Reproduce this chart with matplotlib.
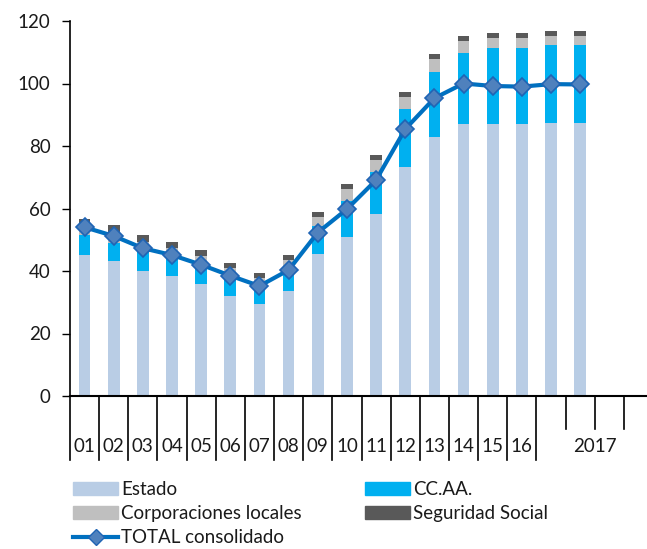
import matplotlib.pyplot as plt
from matplotlib.patches import Patch
from matplotlib.lines import Line2D
import matplotlib.transforms as mtransforms

plt.rcParams['font.family'] = ['Lato', 'DejaVu Sans']
plt.rcParams['text.color'] = '#1a1a1a'
plt.rcParams['ytick.labelcolor'] = '#1a1a1a'

# etiquetas del eje: años 2001-2016 y 2017 (dos trimestres con dato)
anios = ['01', '02', '03', '04', '05', '06', '07', '08', '09', '10',
         '11', '12', '13', '14', '15', '16']
etiqueta_2017 = '2017'
periodos = anios + ['2017T1', '2017T2']

# deuda en % del PIB
estado = [45.1, 43.2, 40.0, 38.4, 35.8, 32.1, 29.4, 33.7, 45.3, 51.0,
          58.2, 73.4, 83.0, 87.0, 87.0, 87.0, 87.5, 87.5]
ccaa = [6.4, 5.9, 6.2, 6.1, 6.0, 5.9, 5.6, 6.6, 9.1, 11.5,
        13.6, 18.3, 20.6, 22.9, 24.5, 24.5, 24.9, 24.9]
corp_locales = [3.7, 3.5, 3.2, 3.0, 3.0, 2.9, 2.8, 3.2, 3.0, 3.6,
                3.7, 4.1, 4.3, 3.7, 3.1, 3.1, 2.8, 2.8]
seg_social = [1.4, 2.1, 2.1, 1.9, 1.9, 1.8, 1.7, 1.6, 1.6, 1.6,
              1.6, 1.6, 1.6, 1.6, 1.6, 1.6, 1.6, 1.6]
total = [54.0, 51.2, 47.3, 45.1, 42.0, 38.5, 35.2, 40.3, 52.3, 59.8,
         69.1, 85.4, 95.3, 100.0, 99.2, 99.0, 99.8, 99.7]

c_estado = '#B9CDE5'
c_ccaa = '#00B0F0'
c_corp = '#BFBFBF'
c_ss = '#595959'
c_total = '#0070C0'

fig = plt.figure(figsize=(6.47, 5.49), dpi=100)
ax = fig.add_axes([70 / 647, 153 / 549, 583 / 647, 375 / 549])

x = list(range(len(periodos)))
ancho = 0.4
base1 = estado
base2 = [a + b for a, b in zip(estado, ccaa)]
base3 = [a + b for a, b in zip(base2, corp_locales)]
ax.bar(x, estado, ancho, color=c_estado, zorder=2)
ax.bar(x, ccaa, ancho, bottom=base1, color=c_ccaa, zorder=2)
ax.bar(x, corp_locales, ancho, bottom=base2, color=c_corp, zorder=2)
ax.bar(x, seg_social, ancho, bottom=base3, color=c_ss, zorder=2)
ax.plot(x, total, color=c_total, lw=3.0, marker='D', markersize=9.5,
        markerfacecolor='#4F81BD', markeredgecolor='#1F64B4', markeredgewidth=1.2, zorder=3)

ax.set_xlim(-0.5, 19.5)
ax.set_ylim(0, 120)
ax.set_yticks(range(0, 121, 20))
ax.tick_params(axis='y', labelsize=13.5, length=6, width=1, direction='out', pad=8)
ax.set_xticks([])
for s in ['top', 'right']:
    ax.spines[s].set_visible(False)
ax.spines['left'].set_linewidth(1.2)
ax.spines['bottom'].set_linewidth(1.5)

# eje de categorías con separadores
trans = mtransforms.blended_transform_factory(ax.transData, ax.transAxes)
for k in range(len(anios) + 1):
    ax.plot([k - 0.5, k - 0.5], [0, -0.171], color='black', lw=1.2,
            transform=trans, clip_on=False)
for k in [16.5, 17.5, 18.5]:
    ax.plot([k, k], [0, -0.087], color='black', lw=1.2,
            transform=trans, clip_on=False)
for i, lab in enumerate(anios):
    ax.text(i, -0.136, lab, transform=trans, ha='center', va='center', fontsize=13.5)
ax.text(17.5, -0.136, etiqueta_2017, transform=trans, ha='center', va='center', fontsize=13.5)

handles = [Patch(color=c_estado), Patch(color=c_corp),
           Line2D([], [], color=c_total, lw=3, marker='D', markersize=8,
                  markerfacecolor='#4F81BD', markeredgecolor='#1F64B4'),
           Patch(color=c_ccaa), Patch(color=c_ss)]
labels = ['Estado', 'Corporaciones locales', 'TOTAL consolidado', 'CC.AA.', 'Seguridad Social']
fig.legend(handles, labels, loc='upper left', bbox_to_anchor=(73 / 647, 1 - 481 / 549),
           ncol=2, frameon=False, fontsize=13.5, handlelength=2.4, handleheight=0.75,
           handletextpad=0.15, columnspacing=3.38, labelspacing=0.38,
           borderpad=0, borderaxespad=0)

fig.savefig('out.png', dpi=100)
